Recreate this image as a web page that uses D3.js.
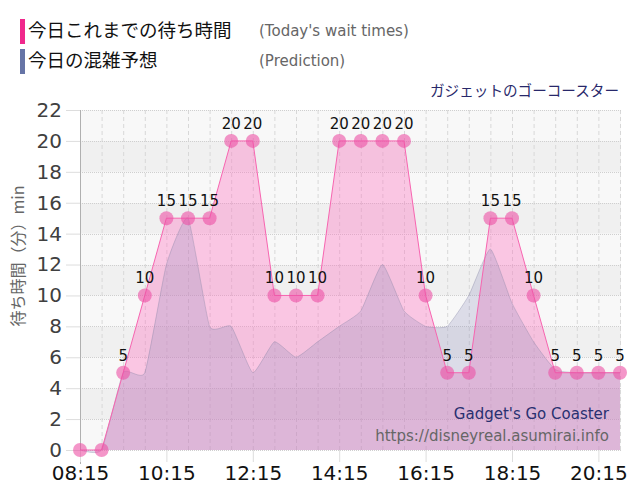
<!DOCTYPE html>
<html><head><meta charset="utf-8">
<script src="https://cdn.jsdelivr.net/npm/d3@7"></script>
<style>
html,body{margin:0;padding:0;background:#fff;}
svg{display:block;}
</style></head>
<body>
<svg id="chart" width="640" height="500"></svg>
<script>
const times = ["08:15","08:45","09:15","09:45","10:15","10:45","11:15","11:45","12:15","12:45","13:15","13:45","14:15","14:45","15:15","15:45","16:15","16:45","17:15","17:45","18:15","18:45","19:15","19:45","20:15","20:45"];
const waitTimes = [0,0,5,10,15,15,15,20,20,10,10,10,20,20,20,20,10,5,5,15,15,10,5,5,5,5];
const prediction = [0,0,5,5,12,15,8,8,5,7,6,7,8,9,12,9,8,8,10,13,9.5,7,5.2,5,5,5];
const xTickLabels = ["08:15","10:15","12:15","14:15","16:15","18:15","20:15"];
const yTickValues = [0,2,4,6,8,10,12,14,16,18,20,22];
const legendLabels = ["今日これまでの待ち時間","今日の混雑予想"];
const legendSubLabels = ["(Today's wait times)","(Prediction)"];
const attractionJa = "ガジェットのゴーコースター";
const attractionEn = "Gadget's Go Coaster";
const siteUrl = "https://disneyreal.asumirai.info";
const yTitle = "待ち時間（分）min";

const toMin = s => { const [h,m] = s.split(":").map(Number); return h*60+m; };
const svg = d3.select("#chart");
const pL = 80, pR = 620, pT = 110, pB = 450;

const x = d3.scaleLinear().domain([toMin(times[0]), toMin(times[times.length-1])]).range([pL, pR]);
const y = d3.scaleLinear().domain([0, 22]).range([pB, pT]);

const JP = "'Noto Sans CJK JP','Noto Sans',sans-serif";
const LAT = "'DejaVu Sans','Noto Sans',sans-serif";

// plot background bands
const g = svg.append("g");
g.selectAll("rect.band").data(yTickValues.slice(0,-1)).join("rect")
  .attr("x", pL).attr("width", pR + 1 - pL)
  .attr("y", d => y(d+2)).attr("height", d => y(d) - y(d+2))
  .attr("fill", d => (d/2) % 2 === 1 ? "#f0f0f0" : "#f8f8f8");

// vertical gridlines every 30 min
g.selectAll("line.vg").data(times.slice(1)).join("line")
  .attr("x1", d => x(toMin(d)) + 0.5).attr("x2", d => x(toMin(d)) + 0.5)
  .attr("y1", pT).attr("y2", pB)
  .attr("stroke", "#d8d8d8").attr("stroke-dasharray", "4,3");

// horizontal gridlines
g.selectAll("line.hg").data(yTickValues).join("line")
  .attr("x1", pL).attr("x2", pR + 1)
  .attr("y1", d => Math.round(y(d)) + 0.5).attr("y2", d => Math.round(y(d)) + 0.5)
  .attr("stroke", "#cfcfcf").attr("stroke-dasharray", "1,1");

// y axis
const yAxis = d3.axisLeft(y).tickValues(yTickValues).tickSize(14).tickPadding(4);
const ya = svg.append("g").attr("transform", `translate(${pL},0)`).call(yAxis);
ya.select(".domain").remove();
ya.selectAll(".tick line").attr("stroke", "#dddddd");
ya.selectAll(".tick text").attr("font-family", LAT).attr("font-size", 20).attr("fill", "#404040");
svg.append("line").attr("x1", pL + 0.5).attr("x2", pL + 0.5).attr("y1", pT).attr("y2", pB + 14)
  .attr("stroke", "#b0b0b0");

// x axis
const xAxis = d3.axisBottom(x).tickValues(xTickLabels.map(toMin)).tickFormat((d,i) => xTickLabels[i]).tickSize(12).tickPadding(4);
const xa = svg.append("g").attr("transform", `translate(0,${pB})`).call(xAxis);
xa.select(".domain").remove();
xa.selectAll(".tick line").attr("stroke", "#dddddd");
xa.selectAll(".tick text").attr("font-family", LAT).attr("font-size", 20).attr("fill", "#111");

// wait times area
const waitData = times.map((t,i) => ({t: toMin(t), v: waitTimes[i]}));
const predData = times.map((t,i) => ({t: toMin(t), v: prediction[i]}));

svg.append("path").datum(waitData)
  .attr("d", d3.area().x(d => x(d.t)).y0(y(0)).y1(d => y(d.v)))
  .attr("fill", "rgba(255,110,190,0.36)");

// prediction area
const pc = d3.curveCardinal.tension(0.55);
svg.append("path").datum(predData)
  .attr("d", d3.area().curve(pc).x(d => x(d.t)).y0(y(0)).y1(d => y(d.v)))
  .attr("fill", "rgba(140,140,185,0.26)");
svg.append("path").datum(predData)
  .attr("d", d3.line().curve(pc).x(d => x(d.t)).y(d => y(d.v)))
  .attr("fill", "none").attr("stroke", "rgba(130,130,160,0.35)").attr("stroke-width", 1);

// wait line
svg.append("path").datum(waitData)
  .attr("d", d3.line().x(d => x(d.t)).y(d => y(d.v)))
  .attr("fill", "none").attr("stroke", "#f765b0").attr("stroke-width", 1);

// markers
svg.selectAll("circle.pt").data(waitData).join("circle")
  .attr("cx", d => x(d.t)).attr("cy", d => y(d.v)).attr("r", 7)
  .attr("fill", "rgba(236,80,165,0.6)");

// labels
svg.selectAll("text.lbl").data(waitData.filter(d => d.v > 0)).join("text")
  .attr("x", d => x(d.t)).attr("y", d => y(d.v) - 12)
  .attr("text-anchor", "middle").attr("font-family", LAT).attr("font-size", 15).attr("fill", "#111")
  .text(d => d.v);

// y title
svg.append("text").attr("transform", "translate(24,256) rotate(-90)")
  .attr("text-anchor", "middle").attr("font-family", JP).attr("font-size", 16).attr("fill", "#666")
  .text(yTitle);

// legend
const legColors = ["#f0288c", "#6674a6"];
legendLabels.forEach((lab, i) => {
  const cy = 31 + i*30;
  svg.append("rect").attr("x", 20).attr("y", cy - 12).attr("width", 5).attr("height", 25).attr("fill", legColors[i]);
  svg.append("text").attr("x", 28).attr("y", cy).attr("dy", "0.35em")
    .attr("font-family", JP).attr("font-size", 18.5).attr("fill", "#111").text(lab);
  svg.append("text").attr("x", 259).attr("y", cy).attr("dy", "0.35em")
    .attr("font-family", LAT).attr("font-size", 15).attr("fill", "#666").text(legendSubLabels[i]);
});

svg.append("text").attr("x", 619).attr("y", 91).attr("dy", "0.35em").attr("text-anchor", "end")
  .attr("font-family", JP).attr("font-size", 14.6).attr("fill", "#28286a").text(attractionJa);

svg.append("text").attr("x", 609).attr("y", 414).attr("dy", "0.35em").attr("text-anchor", "end")
  .attr("font-family", LAT).attr("font-size", 15).attr("fill", "#283070").text(attractionEn);
svg.append("text").attr("x", 609).attr("y", 436).attr("dy", "0.35em").attr("text-anchor", "end")
  .attr("font-family", LAT).attr("font-size", 15).attr("fill", "#666").text(siteUrl);
</script>
</body></html>
